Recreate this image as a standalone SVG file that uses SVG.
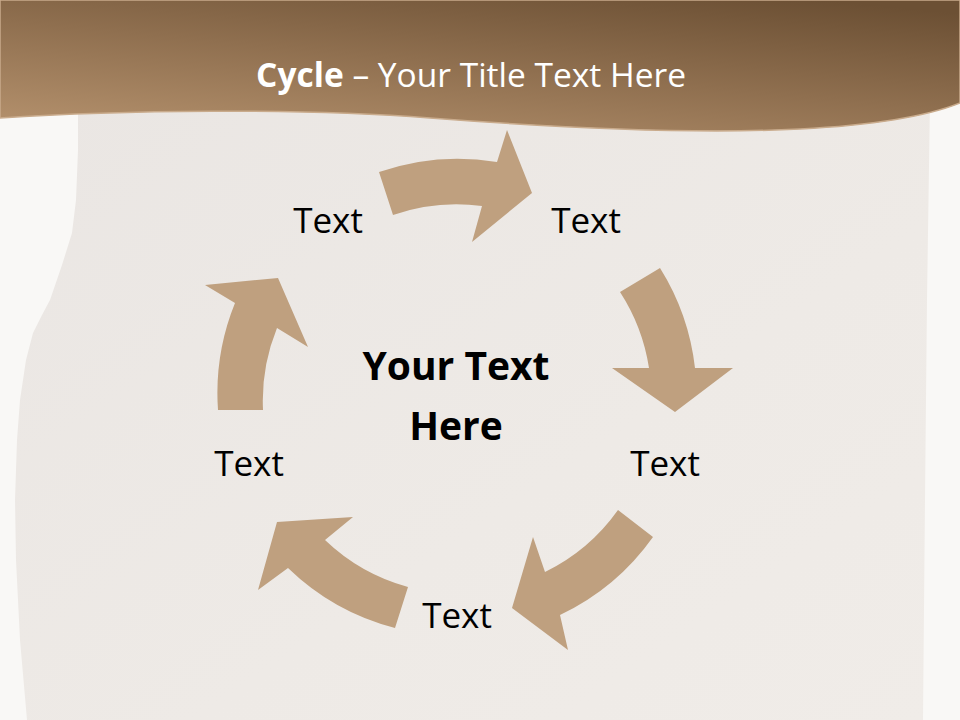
<svg xmlns="http://www.w3.org/2000/svg" width="960" height="720" viewBox="0 0 960 720">
  <style>
    .arrow { fill: #bfa07f; }
    .label { font-family: "Open Sans", "Liberation Sans", sans-serif; font-size: 35px; fill: #000000; text-anchor: middle; }
    .center { font-family: "Open Sans", "Liberation Sans", sans-serif; font-size: 39px; font-weight: bold; fill: #000000; text-anchor: middle; }
    .title { font-family: "Open Sans", "Liberation Sans", sans-serif; font-size: 33.5px; fill: #ffffff; text-anchor: middle; }
  </style>
  <defs>
    <linearGradient id="hdr" x1="0.15" y1="1" x2="0.85" y2="0">
      <stop offset="0" stop-color="#b18e6a"/>
      <stop offset="0.5" stop-color="#8f6f4f"/>
      <stop offset="1" stop-color="#6c5034"/>
    </linearGradient>
    <linearGradient id="paper" x1="0" y1="0" x2="1" y2="1">
      <stop offset="0" stop-color="#eae6e3"/>
      <stop offset="0.6" stop-color="#eeeae6"/>
      <stop offset="1" stop-color="#f0ece8"/>
    </linearGradient>
  </defs>

  <rect id="background" x="0" y="0" width="960" height="720" fill="#f9f8f6"/>
  <path id="paper-sheet" fill="url(#paper)" d="M78,100 L930,100 L927,300 L925,500 L923,720 L27,720 L20,640 L16,560 L15,500 L17,440 L20,400 L26,360 L33,333 L42,315 L50,300 L62,265 L72,233 L76,200 L78,150 Z"/>

  <g id="header">
    <path fill="url(#hdr)" stroke="#c9ab8c" stroke-width="1.5" d="M0,0 H960 V103 C930,115 880,125 800,129 C700,134 560,128 430,118 C300,108 120,110 0,118 Z"/>
    <text class="title" x="471" y="87"><tspan font-weight="bold">Cycle</tspan> – Your Title Text Here</text>
  </g>

  <g id="connectors">
    <path id="arrow-top" class="arrow" d="M379,172 A240,240 0 0 1 497,162 L507,130 L532,193 L472,242 L482,206 A194,194 0 0 0 393,215 Z"/>
    <path id="arrow-right" class="arrow" d="M660,268 A240,240 0 0 1 695,368 L733,368 L675,412 L612,368 L649,368 A194,194 0 0 0 620,292 Z"/>
    <path id="arrow-bottom-right" class="arrow" d="M653,537 A240,240 0 0 1 560,615 L568,650 L512,608 L533,537 L545,572 A194,194 0 0 0 618,510 Z"/>
    <path id="arrow-bottom-left" class="arrow" d="M395,628 A240,240 0 0 1 288,568 L258,590 L277,522 L353,517 L325,540 A194,194 0 0 0 408,587 Z"/>
    <path id="arrow-left" class="arrow" d="M218,410 A240,240 0 0 1 235,303 L205,285 L278,278 L308,347 L277,328 A194,194 0 0 0 263,410 Z"/>
  </g>

  <g id="node-center">
    <text class="center" x="456" y="380">Your Text</text>
    <text class="center" x="456" y="440">Here</text>
  </g>
  <g id="node-top-left"><text class="label" x="328" y="233">Text</text></g>
  <g id="node-top-right"><text class="label" x="586" y="233">Text</text></g>
  <g id="node-right"><text class="label" x="665" y="476">Text</text></g>
  <g id="node-bottom"><text class="label" x="457" y="628">Text</text></g>
  <g id="node-left"><text class="label" x="249" y="476">Text</text></g>
</svg>
